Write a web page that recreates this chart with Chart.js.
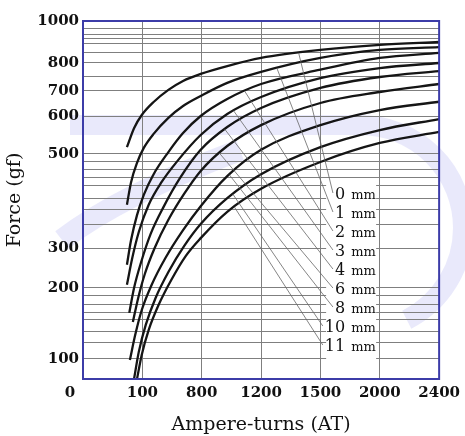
<!DOCTYPE html>
<html>
<head>
<meta charset="utf-8">
<script src="https://cdn.jsdelivr.net/npm/chart.js@4.4.1/dist/chart.umd.min.js"></script>
<style>
  html, body { margin: 0; padding: 0; background: #fff; }
  #wrap { width: 465px; height: 436px; }
</style>
</head>
<body>
<div id="wrap"><canvas id="forceChart"></canvas></div>
<script>
// tick labels as printed on the axes
var xTickValues = [0, 100, 800, 1200, 1500, 2000, 2400];
var yLabelValues = [0, 100, 200, 300, 500, 600, 700, 800, 1000];
var yMinorValues = [123, 139, 155, 166, 177, 189, 349, 381, 406, 432, 449, 466, 483, 750, 852, 895, 919, 938, 962];

// gap between armature and core (mm)
var gapLabels = ['0', '1', '2', '3', '4', '6', '8', '10', '11'];

// ampere-turns (AT) read for each curve
var ampereTurns = [
    [74, 86, 99, 233, 407, 580, 788, 972, 1200, 1500, 2000, 2400],
    [74, 81, 91, 117, 233, 407, 580, 788, 972, 1200, 1500, 2000, 2400],
    [74, 81, 91, 117, 233, 407, 580, 788, 972, 1200, 1500, 2000, 2400],
    [74, 83, 94, 175, 326, 522, 788, 972, 1200, 1500, 2000, 2400],
    [78, 86, 98, 198, 349, 545, 788, 972, 1200, 1500, 2000, 2400],
    [84, 93, 129, 245, 407, 592, 788, 972, 1200, 1500, 2000, 2400],
    [79, 88, 99, 210, 372, 580, 788, 972, 1200, 1500, 2000, 2400],
    [86, 94, 140, 256, 407, 592, 788, 972, 1200, 1500, 2000, 2400],
    [91, 99, 175, 291, 441, 615, 788, 972, 1200, 1500, 2000, 2400]
];
// force (gf) at those ampere-turns
var forceGf = [
    [518, 568, 604, 656, 704, 736, 761, 789, 824, 862, 886, 900],
    [392, 440, 481, 516, 553, 595, 640, 680, 729, 768, 824, 862, 876],
    [258, 317, 370, 413, 457, 505, 555, 600, 668, 725, 776, 824, 848],
    [208, 275, 334, 392, 440, 487, 550, 608, 676, 746, 782, 800],
    [165, 200, 265, 330, 387, 449, 511, 571, 632, 711, 750, 771],
    [152, 186, 235, 300, 360, 415, 464, 521, 576, 652, 696, 725],
    [95, 134, 169, 208, 275, 338, 389, 453, 511, 576, 624, 657],
    [0, 110, 148, 186, 240, 304, 351, 406, 457, 518, 563, 592],
    [0, 106, 141, 176, 220, 281, 321, 377, 426, 483, 529, 558]
];
// where each label's leader line touches its curve (AT)
var leaderAT = [1390, 1280, 1090, 1015, 955, 920, 985, 1010, 1020];

// scale whose printed ticks are not evenly spaced in value
class WarpedScale extends Chart.LinearScale {
    determineDataLimits() {
        var k = this.options.knotValues;
        this.min = k[0];
        this.max = k[k.length - 1];
    }
    buildTicks() {
        return this.options.tickValues.map(function (v) { return {value: v}; });
    }
    _frac(v) {
        var k = this.options.knotValues, f = this.options.knotFracs;
        if (v <= k[0]) return f[0];
        for (var i = 1; i < k.length; i++) {
            if (v <= k[i]) return f[i - 1] + (v - k[i - 1]) / (k[i] - k[i - 1]) * (f[i] - f[i - 1]);
        }
        return f[f.length - 1];
    }
    getPixelForValue(v) {
        var f = this._frac(v);
        return this.isHorizontal() ? this.left + f * this.width : this.bottom - f * this.height;
    }
    getValueForPixel(p) {
        var f = this.isHorizontal() ? (p - this.left) / this.width : (this.bottom - p) / this.height;
        var k = this.options.knotValues, fr = this.options.knotFracs;
        for (var i = 1; i < k.length; i++) {
            if (f <= fr[i]) return k[i - 1] + (f - fr[i - 1]) / (fr[i] - fr[i - 1]) * (k[i] - k[i - 1]);
        }
        return k[k.length - 1];
    }
}
WarpedScale.id = 'warped';
WarpedScale.defaults = {};
Chart.register(WarpedScale);

function pointOnCurve(chart, i, at) {
    var pts = chart.getDatasetMeta(i).data;
    var px = chart.scales.x.getPixelForValue(at);
    for (var j = 1; j < pts.length; j++) {
        if (px <= pts[j].x) {
            var t = (px - pts[j - 1].x) / (pts[j].x - pts[j - 1].x);
            return {x: px, y: pts[j - 1].y + t * (pts[j].y - pts[j - 1].y)};
        }
    }
    return {x: pts[pts.length - 1].x, y: pts[pts.length - 1].y};
}

// white page + faint logo watermark behind the grid
var backdrop = {
    id: 'backdrop',
    beforeDraw: function (chart) {
        var ctx = chart.ctx;
        ctx.save();
        ctx.fillStyle = '#fff';
        ctx.fillRect(0, 0, chart.width, chart.height);
        ctx.strokeStyle = 'rgba(200,200,245,0.4)';
        ctx.lineCap = 'butt';
        ctx.lineWidth = 20;
        ctx.beginPath();
        ctx.moveTo(70, 125);
        ctx.lineTo(360, 125);
        ctx.arc(360, 228, 103, -Math.PI / 2, Math.PI * 0.35);
        ctx.stroke();
        ctx.lineWidth = 22;
        ctx.beginPath();
        ctx.moveTo(62, 240);
        ctx.quadraticCurveTo(120, 195, 240, 150);
        ctx.stroke();
        ctx.restore();
    }
};

// plot frame, gap labels with leader lines, and the corner "0"
var annotations = {
    id: 'annotations',
    afterDatasetsDraw: function (chart) {
        var ctx = chart.ctx, a = chart.chartArea;
        ctx.save();
        var xr = a.right - 94;
        ctx.fillStyle = '#fff';
        ctx.fillRect(xr - 19, a.top + 164, 50, 190);
        gapLabels.forEach(function (lab, i) {
            var y = a.top + 174 + i * 19;
            var p = pointOnCurve(chart, i, leaderAT[i]);
            ctx.font = '16px "DejaVu Serif"';
            var w = ctx.measureText(lab).width;
            ctx.strokeStyle = '#666';
            ctx.lineWidth = 0.8;
            ctx.beginPath();
            ctx.moveTo(p.x, p.y);
            ctx.lineTo(xr - w - 2, y - 2);
            ctx.stroke();
            ctx.fillStyle = '#111';
            ctx.textAlign = 'right';
            ctx.textBaseline = 'middle';
            ctx.fillText(lab, xr, y);
            ctx.font = '13px "DejaVu Serif"';
            ctx.textAlign = 'left';
            ctx.fillText('mm', xr + 6, y + 1);
        });
        ctx.strokeStyle = '#3c3ca8';
        ctx.lineWidth = 2;
        ctx.strokeRect(a.left, a.top, a.right - a.left, a.bottom - a.top);
        ctx.font = 'bold 15px "DejaVu Serif"';
        ctx.fillStyle = '#111';
        ctx.textAlign = 'center';
        ctx.textBaseline = 'middle';
        ctx.fillText('0', a.left - 13, a.bottom + 14);
        ctx.restore();
    }
};

var datasets = gapLabels.map(function (lab, i) {
    return {
        label: lab + ' mm',
        data: ampereTurns[i].map(function (at, j) { return {x: at, y: forceGf[i][j]}; }),
        borderColor: '#151515',
        borderWidth: 2.3,
        pointRadius: 0,
        fill: false,
        cubicInterpolationMode: 'monotone'
    };
});

var tickFont = {family: '"DejaVu Serif"', size: 15, weight: 'bold'};
var titleFont = {family: '"DejaVu Serif"', size: 19};

new Chart(document.getElementById('forceChart'), {
    type: 'line',
    data: {datasets: datasets},
    plugins: [backdrop, annotations],
    options: {
        responsive: true,
        maintainAspectRatio: false,
        animation: false,
        events: [],
        layout: {padding: {left: 0, top: 21, right: 19, bottom: 0}},
        plugins: {legend: {display: false}, tooltip: {enabled: false}},
        scales: {
            x: {
                type: 'warped',
                knotValues: xTickValues,
                knotFracs: [0, 1 / 6, 2 / 6, 3 / 6, 4 / 6, 5 / 6, 1],
                tickValues: xTickValues,
                grid: {color: '#7f7f7f', lineWidth: 1, drawTicks: false},
                border: {display: false},
                ticks: {
                    font: tickFont, color: '#111', padding: 5, autoSkip: false, maxRotation: 0,
                    callback: function (v) { return v === 0 ? '' : String(v); }
                },
                title: {display: true, text: 'Ampere-turns (AT)', font: titleFont, color: '#111', padding: {top: 0, bottom: 0}},
                afterFit: function (s) { s.height = 57; }
            },
            y: {
                type: 'warped',
                knotValues: yLabelValues,
                knotFracs: [0, 0.0559, 0.2542, 0.3659, 0.6285, 0.7346, 0.8045, 0.8827, 1],
                tickValues: yLabelValues.concat(yMinorValues),
                grid: {color: '#7f7f7f', lineWidth: 1, drawTicks: false},
                border: {display: false},
                ticks: {
                    font: tickFont, color: '#111', padding: 4, autoSkip: false,
                    callback: function (v) { return (v !== 0 && yLabelValues.indexOf(v) >= 0) ? String(v) : ''; }
                },
                title: {display: true, text: 'Force (gf)', font: titleFont, color: '#111', padding: {top: 4, bottom: 0}},
                afterFit: function (s) { s.width = 83; }
            }
        }
    }
});
</script>
</body>
</html>
